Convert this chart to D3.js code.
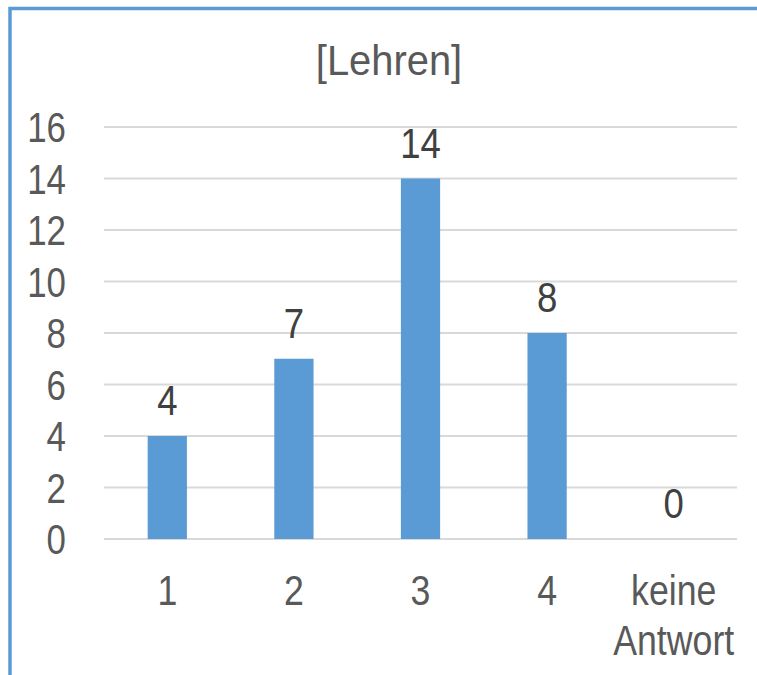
<!DOCTYPE html>
<meta charset="utf-8">
<script src="https://d3js.org/d3.v7.min.js"></script>
<style>
  body { margin: 0; background: #fff; }
  text { font-family: "Liberation Sans", Arial, sans-serif; fill: #595959; }
</style>
<div id="chart"></div>
<script>

// data
var categories = ["1", "2", "3", "4", "keine Antwort"];
var counts = [4, 7, 14, 8, 0];
var yTicks = [0, 2, 4, 6, 8, 10, 12, 14, 16];
var title = "[Lehren]";

var width = 757, height = 675;
var plot = {left: 104, right: 737, top: 127, bottom: 539};
var squeeze = 0.83;   // the source font is a narrow one

var svg = d3.select("#chart")
  .append("svg")
    .attr("width", width)
    .attr("height", height);

// blue frame on left and top
svg.append("path")
  .attr("d", "M10,675 V8.5 H757")
  .attr("fill", "none")
  .attr("stroke", "#5B9BD5")
  .attr("stroke-width", 3.5);

var x = d3.scaleBand()
  .domain(categories)
  .range([plot.left, plot.right])
  .paddingInner(0.69)
  .paddingOuter(0.345);

var y = d3.scaleLinear()
  .domain([0, 16])
  .range([plot.bottom, plot.top]);

// gridlines
svg.append("g")
  .selectAll("line")
  .data(yTicks)
  .enter()
  .append("line")
    .attr("x1", plot.left)
    .attr("x2", plot.right)
    .attr("y1", function(d) { return y(d); })
    .attr("y2", function(d) { return y(d); })
    .attr("stroke", "#D9D9D9")
    .attr("stroke-width", 2);

// y axis labels
svg.append("g")
  .selectAll("text")
  .data(yTicks)
  .enter()
  .append("text")
    .attr("transform", function(d) { return "translate(66," + y(d) + ") scale(" + squeeze + ",1)"; })
    .attr("text-anchor", "end")
    .attr("dy", "0.36em")
    .attr("font-size", "42px")
    .text(function(d) { return d; });

// bars
svg.append("g")
  .selectAll("rect")
  .data(counts)
  .enter()
  .append("rect")
    .attr("x", function(d, i) { return x(categories[i]); })
    .attr("y", function(d) { return y(d); })
    .attr("width", x.bandwidth())
    .attr("height", function(d) { return y(0) - y(d); })
    .attr("fill", "#5B9BD5");

// value labels
svg.append("g")
  .selectAll("text")
  .data(counts)
  .enter()
  .append("text")
    .attr("transform", function(d, i) {
      return "translate(" + (x(categories[i]) + x.bandwidth() / 2) + "," + (y(d) - 21) + ") scale(0.87,1)";
    })
    .attr("text-anchor", "middle")
    .attr("font-size", "42px")
    .style("fill", "#404040")
    .text(function(d) { return d; });

// category labels (wrap on space)
var xl = svg.append("g")
  .selectAll("text")
  .data(categories)
  .enter()
  .append("text")
    .attr("transform", function(d) {
      return "translate(" + (x(d) + x.bandwidth() / 2) + ",605) scale(" + squeeze + ",1)";
    })
    .attr("text-anchor", "middle")
    .attr("font-size", "43px");
xl.each(function(d) {
  var t = d3.select(this);
  d.split(" ").forEach(function(w, i) {
    t.append("tspan")
      .attr("x", 0)
      .attr("dy", i === 0 ? 0 : 50)
      .text(w);
  });
});

// title
svg.append("text")
  .attr("transform", "translate(389,75) scale(0.95,1)")
  .attr("text-anchor", "middle")
  .attr("font-size", "42px")
  .text(title);

</script>
